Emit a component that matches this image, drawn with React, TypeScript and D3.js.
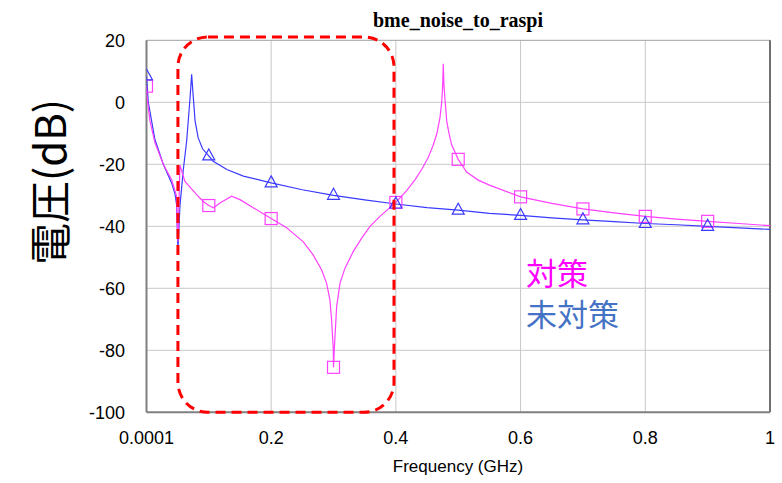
import * as d3 from 'd3';

// 対策 (magenta) — frequency in GHz, level in dB
const measFreq = [
  0.0001, 0.0003, 0.0056, 0.0136, 0.027, 0.0404, 0.048, 0.0505, 0.0537, 0.0617,
  0.0805, 0.0911, 0.1, 0.1075, 0.1179, 0.1366, 0.15, 0.1713, 0.2, 0.2249,
  0.2302, 0.2516, 0.2676, 0.281, 0.289, 0.2943, 0.297, 0.2997, 0.3, 0.3017,
  0.305, 0.3104, 0.3184, 0.3318, 0.3452, 0.3585, 0.3745, 0.4, 0.4173, 0.4306,
  0.4418, 0.4515, 0.4595, 0.4659, 0.4707, 0.4735, 0.475, 0.476, 0.477, 0.4788,
  0.4815, 0.4852, 0.4895, 0.5, 0.5135, 0.532, 0.551, 0.6, 0.65, 0.7,
  0.75, 0.8, 0.85, 0.9, 0.95, 1.0,
];
const measDb = [
  5.2, 3, -6, -13, -20, -25, -30, -45, -20.3, -25.5,
  -29.8, -32, -33.3, -34, -32.5, -30.3, -31.4, -34, -37.5, -40.5,
  -41.4, -45, -49.3, -54.1, -58.4, -63.8, -70.3, -80, -85.5, -78,
  -66, -58.4, -53.5, -48.1, -43.8, -40, -36.8, -32.3, -28.5, -25,
  -21.5, -18, -14, -10, -5, 0, 5, 12.4, 6, 1,
  -6, -10, -13.7, -18.4, -22.5, -25.1, -26.8, -30.5, -32.6, -34.4,
  -35.7, -36.8, -37.7, -38.4, -39.1, -39.8,
];

// 未対策 (blue)
const noMeasFreq = [
  0.0001, 0.003, 0.0136, 0.027, 0.0404, 0.0457, 0.0484, 0.0505, 0.0537, 0.059,
  0.0645, 0.0698, 0.0725, 0.075, 0.078, 0.083, 0.09, 0.1, 0.107, 0.129,
  0.1555, 0.2, 0.25, 0.3, 0.35, 0.4, 0.45, 0.5, 0.55, 0.6,
  0.65, 0.7, 0.75, 0.8, 0.85, 0.9, 0.95, 1.0,
];
const noMeasDb = [
  8.5, 0, -12, -20, -26, -29.5, -33, -47.7, -33.5, -22,
  -12.5, 1, 9, 2, -6, -11.5, -15, -17.3, -19, -21.7,
  -23.8, -26, -28.2, -30, -31.5, -32.8, -34, -34.8, -35.8, -36.5,
  -37.3, -37.9, -38.5, -39.1, -39.5, -40, -40.5, -41,
];

// marker positions
const markerFreq = [0.0001, 0.1, 0.2, 0.3, 0.4, 0.5, 0.6, 0.7, 0.8, 0.9];
const squareDb = [5.2, -33.3, -37.5, -85.5, -32.3, -18.4, -30.5, -34.4, -36.8, -38.4];
const triangleDb = [8.5, -17.3, -26, -30, -32.8, -34.8, -36.5, -37.9, -39.1, -40];

const xTicks = [0.0001, 0.2, 0.4, 0.6, 0.8, 1];
const xTickLabels = ['0.0001', '0.2', '0.4', '0.6', '0.8', '1'];
const yTicks = [20, 0, -20, -40, -60, -80, -100];

const legendNames = ['対策', '未対策'];

// highlighted region (GHz / dB)
const boxFreq = [0.0505, 0.397];
const boxDb = [21.1, -100];

const W = 782;
const H = 483;
const left = 146.5, right = 770, top = 40.3, bottom = 412.3;

const MAGENTA = '#ff40ff';
const BLUE = '#3a3aff';

export default function App() {
  const x = d3.scaleLinear().domain([0.0001, 1]).range([left, right]);
  const y = d3.scaleLinear().domain([20, -100]).range([top, bottom]);

  const line = d3.line<[number, number]>()
    .x(d => x(d[0]))
    .y(d => y(d[1]));

  const measPts = measFreq.map((f, i) => [f, measDb[i]] as [number, number]);
  const noMeasPts = noMeasFreq.map((f, i) => [f, noMeasDb[i]] as [number, number]);

  const sans = '"Liberation Sans", Arial, sans-serif';
  const cjk = '"Noto Sans CJK JP", sans-serif';

  const bx0 = x(boxFreq[0]), bx1 = x(boxFreq[1]);
  const by0 = y(boxDb[0]), by1 = y(boxDb[1]);

  return (
    <svg width={W} height={H} style={{ position: 'absolute', left: 0, top: 0, background: '#fff' }}>
      <defs>
        <clipPath id="plot">
          <rect x={left} y={top} width={right - left} height={bottom - top} />
        </clipPath>
      </defs>
      <rect width={W} height={H} fill="#fff" />

      {/* grid */}
      {xTicks.slice(1, -1).map(t => (
        <line key={'gx' + t} x1={x(t)} x2={x(t)} y1={top} y2={bottom} stroke="#c8c8c8" strokeWidth={1} />
      ))}
      {yTicks.slice(1, -1).map(t => (
        <line key={'gy' + t} x1={left} x2={right} y1={y(t)} y2={y(t)} stroke="#c8c8c8" strokeWidth={1} />
      ))}

      {/* frame */}
      <line x1={left} x2={right} y1={top} y2={top} stroke="#a0a0a0" strokeWidth={1} />
      <line x1={right} x2={right} y1={top} y2={bottom} stroke="#404040" strokeWidth={1.5} />
      <line x1={left} x2={left} y1={top} y2={bottom} stroke="#808080" strokeWidth={2} />
      <line x1={left} x2={right} y1={bottom} y2={bottom} stroke="#808080" strokeWidth={2} />

      {/* series */}
      <g clipPath="url(#plot)">
        <path d={line(noMeasPts) || ''} fill="none" stroke={BLUE} strokeWidth={1.2} />
        <path d={line(measPts) || ''} fill="none" stroke={MAGENTA} strokeWidth={1.2} />
        {markerFreq.map((f, i) => (
          <rect key={'sq' + i} x={x(f) - 6} y={y(squareDb[i]) - 6} width={12} height={12}
            fill="none" stroke={MAGENTA} strokeWidth={1.2} />
        ))}
        {markerFreq.map((f, i) => {
          const cx = x(f), cy = y(triangleDb[i]);
          const p = `M${cx},${cy - 7}L${cx + 6},${cy + 4}L${cx - 6},${cy + 4}Z`;
          return <path key={'tr' + i} d={p} fill="none" stroke={BLUE} strokeWidth={1.2} />;
        })}
      </g>

      {/* red dashed highlight */}
      <rect x={bx0} y={by0} width={bx1 - bx0} height={by1 - by0} rx={30} ry={30}
        fill="none" stroke="#ff0000" strokeWidth={3} strokeDasharray="10 6" />

      {/* y tick labels */}
      {yTicks.map(t => (
        <text key={'yl' + t} x={125} y={y(t)} dy="0.35em" textAnchor="end"
          fontFamily={sans} fontSize={18} fill="#000">{t}</text>
      ))}
      {/* x tick labels */}
      {xTicks.map((t, i) => (
        <text key={'xl' + t} x={x(t)} y={444} textAnchor="middle"
          fontFamily={sans} fontSize={18} fill="#000">{xTickLabels[i]}</text>
      ))}

      <text x={458} y={472} textAnchor="middle" fontFamily={sans} fontSize={17} fill="#000">
        Frequency (GHz)
      </text>

      <text x={458} y={27} textAnchor="middle" fontFamily='"Liberation Serif", "Times New Roman", serif'
        fontWeight="bold" fontSize={20} fill="#000">bme_noise_to_raspi</text>

      <text transform={`translate(66,${182}) rotate(-90)`} textAnchor="middle"
        fontFamily={cjk} fontSize={42} fill="#000">電圧(dB)</text>

      <text x={526} y={285} fontFamily={cjk} fontSize={31} fill="#ff00ff">{legendNames[0]}</text>
      <text x={526} y={326} fontFamily={cjk} fontSize={31} fill="#4472c4">{legendNames[1]}</text>
    </svg>
  );
}
